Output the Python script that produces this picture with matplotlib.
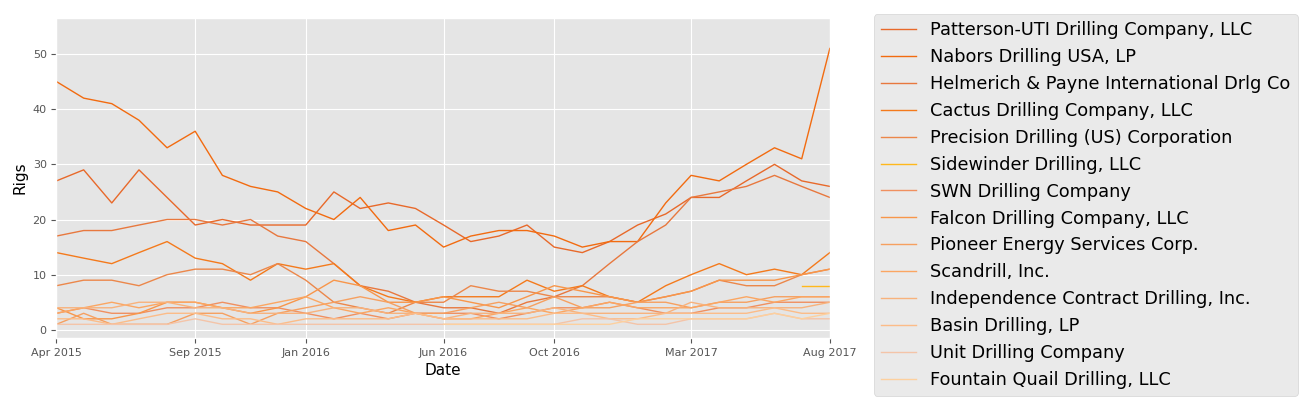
import matplotlib
matplotlib.use("Agg")
import matplotlib.pyplot as plt
import numpy as np
import pandas as pd

plt.style.use("ggplot")

dates = pd.date_range("2015-04-01", "2017-08-01", freq="MS")
nan = np.nan
companies = [
    "Patterson-UTI Drilling Company, LLC",
    "Nabors Drilling USA, LP",
    "Helmerich & Payne International Drlg Co",
    "Cactus Drilling Company, LLC",
    "Precision Drilling (US) Corporation",
    "Sidewinder Drilling, LLC",
    "SWN Drilling Company",
    "Falcon Drilling Company, LLC",
    "Pioneer Energy Services Corp.",
    "Scandrill, Inc.",
    "Independence Contract Drilling, Inc.",
    "Basin Drilling, LP",
    "Unit Drilling Company",
    "Fountain Quail Drilling, LLC",
]
patterson = [27,29,23,29,24,19,20,19,19,19,25,22,23,22,19,16,17,19,15,14,16,19,21,24,24,27,30,27,26]
nabors = [45,42,41,38,33,36,28,26,25,22,20,24,18,19,15,17,18,18,17,15,16,16,23,28,27,30,33,31,51]
helmerich = [17,18,18,19,20,20,19,20,17,16,12,8,7,5,4,4,3,5,6,8,12,16,19,24,25,26,28,26,24]
cactus = [14,13,12,14,16,13,12,9,12,11,12,8,6,5,6,6,6,9,7,8,6,5,8,10,12,10,11,10,14]
precision = [8,9,9,8,10,11,11,10,12,9,5,4,3,5,5,8,7,7,6,6,6,5,6,7,9,8,8,10,11]
sidewinder = [nan]*26 + [nan,8,8]
swn = [3,4,3,3,4,4,5,4,4,3,2,3,2,3,3,3,2,3,4,4,5,4,3,3,4,4,5,5,5]
falcon = [4,2,2,3,5,5,4,3,4,6,9,8,5,5,6,5,4,6,8,7,6,5,6,7,9,9,9,10,11]
pioneer = [1,3,1,1,1,3,3,1,3,4,5,6,5,3,3,4,5,4,6,4,4,5,5,4,5,5,6,6,6]
scandrill = [3,4,5,4,5,5,4,4,5,6,4,3,4,3,2,2,3,4,3,4,5,4,4,4,5,6,5,6,6]
independence = [4,4,4,5,5,4,4,3,3,3,4,4,3,3,2,3,3,3,4,3,3,3,3,5,4,4,4,4,5]
basin = [2,2,1,2,3,3,2,2,1,2,2,2,2,3,2,2,2,2,3,3,2,2,3,3,3,3,4,3,3]
unit = [1,1,1,1,1,2,1,1,1,1,1,1,1,1,1,1,1,1,1,2,2,1,1,2,2,2,3,2,2]
fountain = [nan]*14 + [1,1,1,1,1,1,1,2,2,2,2,2,3,2,3]
series = [patterson, nabors, helmerich, cactus, precision, sidewinder, swn, falcon,
          pioneer, scandrill, independence, basin, unit, fountain]
colors = ["#e8692a", "#f26b10", "#e8783e", "#f47a1c", "#ec874a", "#ffb81c", "#f09060",
          "#f8964a", "#f6a060", "#fba662", "#f8b27c", "#fcbc88", "#f4c4a8", "#fdd09e"]

fig = plt.figure(figsize=(13.13, 4.03), dpi=100)
ax = fig.add_axes([0.043, 0.161, 0.589, 0.794])
for name, vals, c in zip(companies, series, colors):
    ax.plot(dates, vals, color=c, lw=1, label=name)

ticks = pd.to_datetime(["2015-04-01","2015-09-01","2016-01-01","2016-06-01","2016-10-01","2017-03-01","2017-08-01"])
ax.set_xticks(ticks)
ax.set_xticklabels([t.strftime("%b %Y") for t in ticks], fontsize=8)
ax.set_xlim(dates[0], dates[-1])
ax.set_ylim(-1.5, 56.5)
ax.set_yticks(range(0, 51, 10))
ax.tick_params(axis="y", labelsize=8)
ax.set_xlabel("Date", color="black", fontsize=11)
ax.set_ylabel("Rigs", color="black", fontsize=11)
ax.legend(loc="upper left", bbox_to_anchor=(1.045, 1.04), fontsize=12.8, frameon=True)
fig.savefig("out.png", dpi=100)
